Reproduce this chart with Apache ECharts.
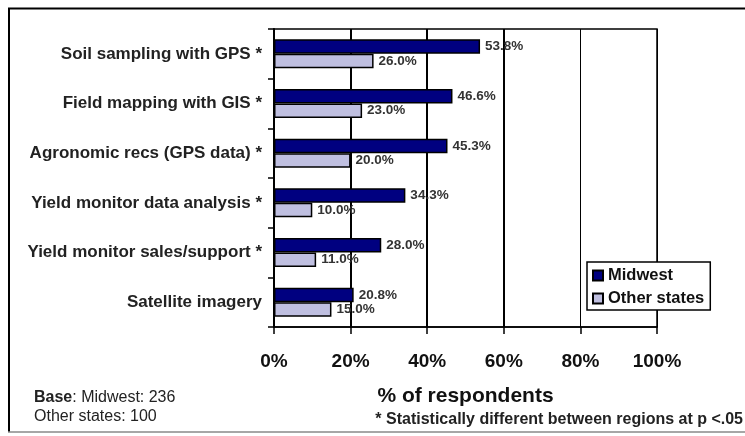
<!DOCTYPE html>
<html>
<head>
<meta charset="utf-8">
<script src="https://cdn.jsdelivr.net/npm/echarts@6/dist/echarts.min.js"></script>
<style>
html,body{margin:0;padding:0;background:#fff;}
#chart{width:745px;height:436px;}
</style>
</head>
<body>
<div id="chart"></div>
<script>
var categories = ['Soil sampling with GPS *', 'Field mapping with GIS *', 'Agronomic recs (GPS data) *', 'Yield monitor data analysis *', 'Yield monitor sales/support *', 'Satellite imagery'];
var midwest = [53.8, 46.6, 45.3, 34.3, 28.0, 20.8];
var otherStates = [26.0, 23.0, 20.0, 10.0, 11.0, 15.0];
var seriesNames = ['Midwest', 'Other states'];
var thickGridValues = [20, 40, 60];

var FONT = '"Liberation Sans", Arial, sans-serif';
var chart = echarts.init(document.getElementById('chart'), null, {renderer: 'canvas'});

var labelFmt = function (p) { return p.value.toFixed(1) + '%'; };

var option = {
  backgroundColor: '#fff',
  animation: false,
  textStyle: {fontFamily: FONT},
  grid: {
    left: 274, right: 88, top: 29, bottom: 109,
    show: true, borderColor: '#000', borderWidth: 1.5, backgroundColor: 'transparent'
  },
  legend: {
    orient: 'vertical',
    left: 587, top: 262,
    padding: [5, 6, 3, 5],
    itemWidth: 10, itemHeight: 10, itemGap: 6,
    borderColor: '#000', borderWidth: 1.5, backgroundColor: '#fff',
    icon: 'rect',
    textStyle: {fontFamily: FONT, fontSize: 16.5, fontWeight: 'bold', color: '#111'},
    data: seriesNames
  },
  xAxis: {
    type: 'value', min: 0, max: 100, interval: 20,
    axisLine: {show: true, lineStyle: {color: '#000', width: 1.5}},
    axisTick: {show: true, length: 7, lineStyle: {color: '#000', width: 1.5}},
    splitLine: {show: true, lineStyle: {color: '#000', width: 1}},
    axisLabel: {
      formatter: '{value}%', margin: 25,
      fontFamily: FONT, fontSize: 19, fontWeight: 'bold', color: '#111'
    },
    name: '% of respondents', nameLocation: 'middle', nameGap: 59,
    nameTextStyle: {fontFamily: FONT, fontSize: 21, fontWeight: 'bold', color: '#111'}
  },
  yAxis: {
    type: 'category', inverse: true, data: categories,
    axisLine: {show: true, lineStyle: {color: '#000', width: 2}},
    axisTick: {show: true, length: 6, lineStyle: {color: '#000', width: 1.5}},
    axisLabel: {margin: 12, fontFamily: FONT, fontSize: 17, fontWeight: 'bold', color: '#222'},
    splitLine: {show: false}
  },
  series: [
    {
      name: seriesNames[0], type: 'bar', data: midwest,
      barWidth: 14.5, barGap: '0%',
      itemStyle: {color: '#000080', borderColor: '#000', borderWidth: 1.5},
      label: {show: true, position: 'right', distance: 5, formatter: labelFmt,
        fontFamily: FONT, fontSize: 13.5, fontWeight: 'bold', color: '#333'},
      markLine: {
        silent: true, symbol: 'none', z: 1,
        label: {show: false},
        lineStyle: {color: '#000', width: 2, type: 'solid'},
        data: thickGridValues.map(function (v) { return {xAxis: v}; })
      }
    },
    {
      name: seriesNames[1], type: 'bar', data: otherStates,
      barWidth: 14.5, barGap: '0%',
      itemStyle: {color: '#BFBFE0', borderColor: '#000', borderWidth: 1.5},
      label: {show: true, position: 'right', distance: 5, formatter: labelFmt,
        fontFamily: FONT, fontSize: 13.5, fontWeight: 'bold', color: '#333'}
    }
  ],
  graphic: [
    {type: 'line', shape: {x1: 8, y1: 8.5, x2: 745, y2: 8.5}, style: {stroke: '#000', lineWidth: 2}, silent: true},
    {type: 'line', shape: {x1: 9, y1: 8, x2: 9, y2: 432}, style: {stroke: '#000', lineWidth: 2}, silent: true},
    {type: 'line', shape: {x1: 8, y1: 432, x2: 745, y2: 432}, style: {stroke: '#888', lineWidth: 1.5}, silent: true},
    {
      type: 'text', left: 34, top: 390,
      style: {
        text: '{b|Base}: Midwest: 236', fontFamily: FONT, fontSize: 16, fill: '#222',
        rich: {b: {fontFamily: FONT, fontSize: 16, fontWeight: 'bold', fill: '#222'}}
      }
    },
    {
      type: 'text', left: 34, top: 409,
      style: {text: 'Other states: 100', fontFamily: FONT, fontSize: 16, fill: '#222'}
    },
    {
      type: 'text', right: 2, top: 412,
      style: {text: '* Statistically different between regions at p <.05', fontFamily: FONT, fontSize: 16, fontWeight: 'bold', fill: '#222'}
    }
  ]
};
chart.setOption(option);
</script>
</body>
</html>
